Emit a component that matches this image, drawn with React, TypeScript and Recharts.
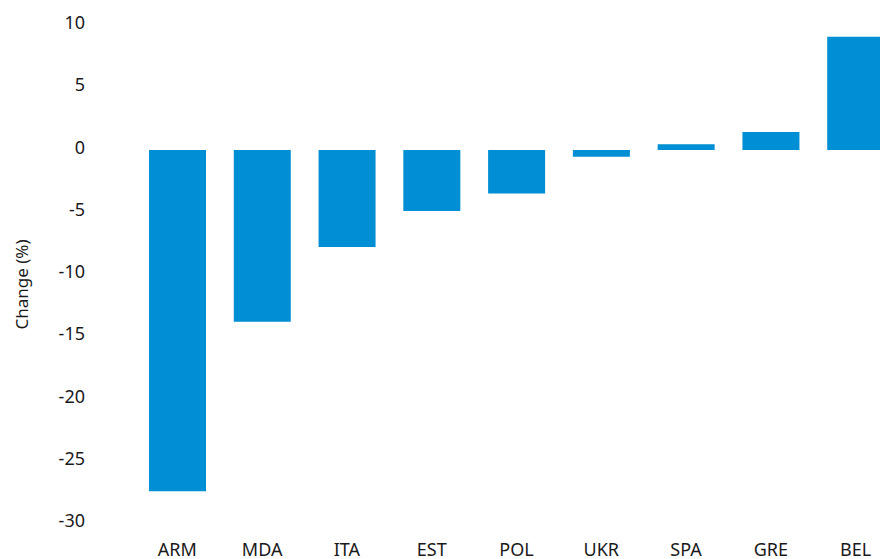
import React from 'react';
import { BarChart, Bar, XAxis, YAxis } from 'recharts';

const countries = ['ARM', 'MDA', 'ITA', 'EST', 'POL', 'UKR', 'SPA', 'GRE', 'BEL'];
const changes = [-27.4, -13.8, -7.8, -4.9, -3.5, -0.54, 0.47, 1.45, 9.1];
const yTicks = [-30, -25, -20, -15, -10, -5, 0, 5, 10];

const data = countries.map((c, i) => ({ country: c, change: changes[i] }));

const FONT = '"Noto Sans", sans-serif';

const YTick = (props: any) => {
  const { x, y, payload } = props;
  return (
    <text x={x} y={y - 3.5} textAnchor="end" dominantBaseline="central" fontSize={18} fontFamily={FONT} fill="#1a1a1a">
      {payload.value}
    </text>
  );
};

const YLabel = (props: any) => {
  const vb = props.viewBox || { x: 0, y: 25.5, height: 498 };
  const cx = 21;
  const cy = vb.y + vb.height / 2 + 10;
  return (
    <text x={cx} y={cy} transform={`rotate(-90 ${cx} ${cy})`} textAnchor="middle" dominantBaseline="central" fontSize={17} fontFamily={FONT} fill="#1a1a1a">
      Change (%)
    </text>
  );
};

export default function App() {
  return (
    <div style={{ position: 'absolute', left: 0, top: 0, width: 880, height: 559, overflow: 'hidden', background: '#fff' }}>
      <BarChart width={898} height={559} data={data} margin={{ top: 25.5, right: 0, bottom: 0, left: 0 }} barSize={57}>
        <XAxis
          dataKey="country"
          axisLine={false}
          tickLine={false}
          height={35.5}
          tickMargin={13.5}
          interval={0}
          tick={{ fontSize: 18, fontFamily: FONT, fill: '#1a1a1a' }}
        />
        <YAxis
          type="number"
          domain={[-30, 10]}
          ticks={yTicks}
          width={135}
          axisLine={false}
          tickLine={false}
          tickMargin={44}
          tick={<YTick />}
          label={<YLabel />}
        />
        <Bar dataKey="change" fill="#008ed4" isAnimationActive={false} />
      </BarChart>
    </div>
  );
}
